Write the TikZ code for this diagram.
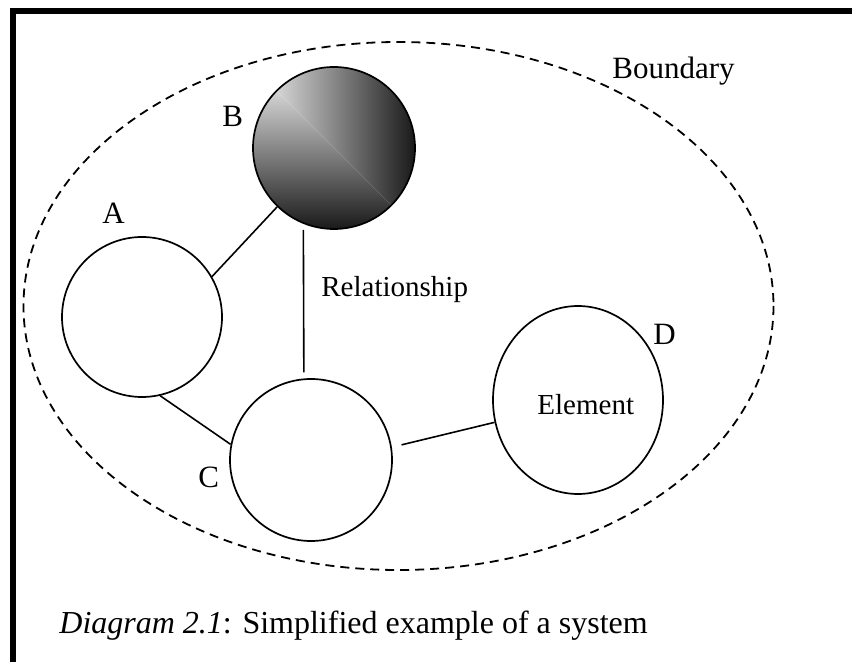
\documentclass[tikz,border=0pt]{standalone}
\usepackage{fontspec}
\setmainfont{Liberation Serif}
\usetikzlibrary{shapes.geometric}
\begin{document}
\begin{tikzpicture}[x=0.5pt, y=-0.5pt,
  elem/.style={circle, draw, line width=0.85pt, inner sep=0pt, minimum size=#1},
  link/.style={line width=0.8pt},
  boundaryline/.style={line width=0.9pt, dash pattern=on 4.5pt off 3pt},
  letter/.style={inner sep=0pt, anchor=base west, font=\fontsize{15.5pt}{18pt}\selectfont},
  label/.style={inner sep=0pt, anchor=base west, font=\fontsize{14.5pt}{17pt}\selectfont}]
\useasboundingbox (0,0) rectangle (852,662);
% frame
\draw[line width=3pt, line join=miter] (13,662) -- (13,11) -- (852,11);
% boundary
\draw[boundaryline] (398.5,306) ellipse [x radius=375, y radius=264];
% elements
\node[elem=80pt] (A) at (142,317) {};
\node[elem=81pt, path picture={
  \shade[left color=black!4, middle color=black!40, right color=black!90]
    (path picture bounding box.north west) -- (path picture bounding box.north east)
    -- (path picture bounding box.south east) -- cycle;
  \shade[top color=black!4, middle color=black!40, bottom color=black!90]
    (path picture bounding box.north west) -- (path picture bounding box.south west)
    -- (path picture bounding box.south east) -- cycle;
  }] (B) at (334,148) {};
\node[elem=81pt] (C) at (311,460) {};
\node[ellipse, draw, line width=0.85pt, inner sep=0pt, minimum width=85pt, minimum height=94pt] (D) at (578,400) {};
% connectors
\draw[link] (A.30) -- (B.226);
\draw[link, shorten <=3pt, shorten >=3pt] (B.248) -- (C.95);
\draw[link] (A.-77) -- (C.169);
\draw[link, shorten <=5pt] (C.9) -- (D.195.5);
% labels
\node[letter] (lA) at (102,224) {A};
\node[letter] (lB) at (222,127) {B};
\node[letter] (lC) at (198,488) {C};
\node[letter] (lD) at (653,345) {D};
\node[letter] (lBound) at (612,79) {Boundary};
\node[label] (lRel) at (321,297) {Relationship};
\node[label] (lElem) at (537,415) {Element};
\node[inner sep=0pt, anchor=base west, font=\fontsize{16pt}{19pt}\selectfont] (caption) at (59,633)
  {\textit{Diagram 2.1}: Simplified example of a system};
\end{tikzpicture}
\end{document}
